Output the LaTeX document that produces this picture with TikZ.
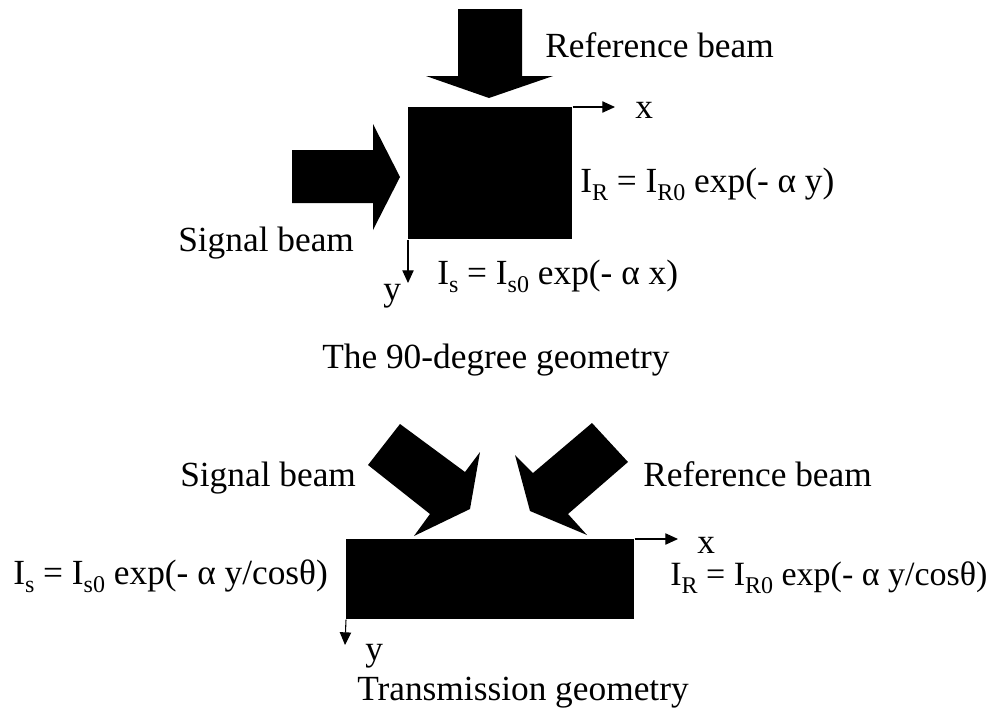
\documentclass[tikz,border=0pt]{standalone}
\usepackage{fontspec}
\setmainfont{Liberation Serif}
\usetikzlibrary{arrows.meta}
\newcommand{\lowsub}[1]{\raisebox{-6.5pt}{\fontsize{18}{18}\selectfont #1}}
\tikzset{
  lbl/.style={anchor=base west, inner sep=0pt, font=\fontsize{26.5}{30}\selectfont},
  lblsm/.style={anchor=base west, inner sep=0pt, font=\fontsize{25.5}{29}\selectfont},
  slab/.style={fill=black, draw=none},
  fatarrow/.style={fill=black, draw=none},
  axis/.style={line width=0.8pt, -{Triangle[width=8.5pt,length=9.5pt]}},
}
\begin{document}
\begin{tikzpicture}[x=0.75pt, y=-0.75pt]
\useasboundingbox (0,0) rectangle (989,711);

% ---------- 90-degree geometry ----------
\node[slab, minimum width=123pt, minimum height=99pt, inner sep=0pt, anchor=north west] (box1) at (408,107) {};
\fill[fatarrow] (458,9) -- (522,9) -- (522,76) -- (553,76) -- (489,98) -- (426,76) -- (458,76) -- cycle;
\fill[fatarrow] (292,150) -- (373,150) -- (373,124) -- (400,177) -- (373,230) -- (373,203) -- (292,203) -- cycle;
\coordinate (x1) at (615,107);
\coordinate (y1) at (408,283);
\draw[axis] (box1.north east) -- (x1);
\draw[axis] (box1.south west) -- (y1);

\node[lbl] (refA) at (545,57) {Reference beam};
\node[lbl] (xA) at (635,118) {x};
\node[lbl] (IRA) at (580,192) {I\lowsub{R} = I\lowsub{R0} exp(- α y)};
\node[lbl] (sigA) at (178,251) {Signal beam};
\node[lbl] (yA) at (383,300) {y};
\node[lbl] (IsA) at (437,284) {I\lowsub{s} = I\lowsub{s0} exp(- α x)};
\node[lbl] (capA) at (322,368) {The 90-degree geometry};

% ---------- Transmission geometry ----------
\node[slab, minimum width=216pt, minimum height=60pt, inner sep=0pt, anchor=north west] (box2) at (346,539) {};
\fill[fatarrow] (400,424) -- (368,465) -- (430,514) -- (414,536) -- (470,509) -- (480,452) -- (465,472) -- cycle;
\fill[fatarrow] (592,423) -- (628,462) -- (568,514) -- (587,535) -- (530,511) -- (515,455) -- (533,473) -- cycle;
\coordinate (x2) at (678,539);
\coordinate (y2) at (345,645);
\draw[axis] (box2.north east) -- (x2);
\draw[axis] (box2.south west) -- (y2);

\node[lbl] (sigB) at (180,486) {Signal beam};
\node[lbl] (refB) at (643,486) {Reference beam};
\node[lbl] (xB) at (697,553) {x};
\node[lbl] (IsB) at (13,584) {I\lowsub{s} = I\lowsub{s0} exp(- α y/cosθ)};
\node[lblsm] (IRB) at (670,585) {I\lowsub{R} = I\lowsub{R0} exp(- α y/cosθ)};
\node[lbl] (yB) at (365,660) {y};
\node[lbl] (capB) at (357,700) {Transmission geometry};
\end{tikzpicture}
\end{document}
